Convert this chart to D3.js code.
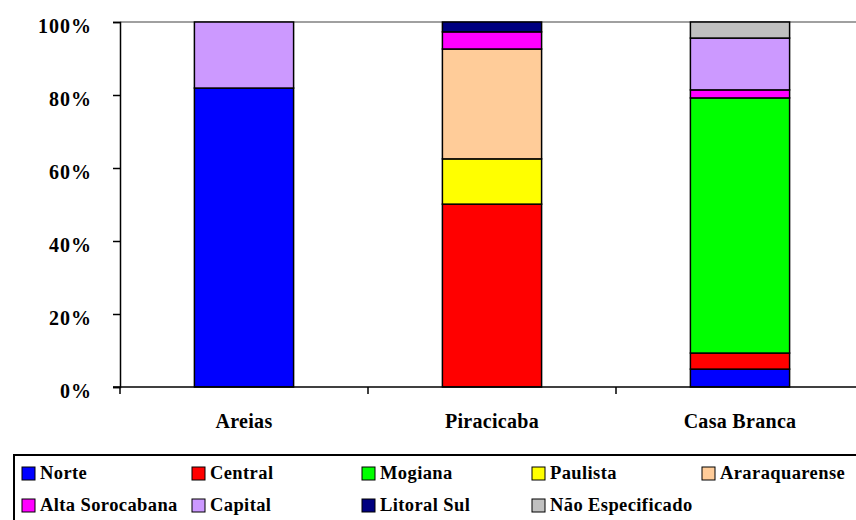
<!DOCTYPE html>
<html>
<head>
<meta charset="utf-8">
<script src="https://cdn.jsdelivr.net/npm/d3@7"></script>
<style>
  body { margin: 0; background: #fff; }
</style>
</head>
<body>
<svg id="chart" width="856" height="520" font-family="Liberation Serif" font-weight="bold"></svg>
<script>
// categories and series (percent of each bar)
const categories = ['Areias', 'Piracicaba', 'Casa Branca'];
const seriesNames = ['Norte', 'Central', 'Mogiana', 'Paulista', 'Araraquarense',
                     'Alta Sorocabana', 'Capital', 'Litoral Sul', 'Não Especificado'];
const norte          = [81.9, 0,    4.9];
const central        = [0,    50.1, 4.4];
const mogiana        = [0,    0,    69.9];
const paulista       = [0,    12.4, 0];
const araraquarense  = [0,    30.1, 0];
const altaSorocabana = [0,    4.7,  2.2];
const capital        = [18.1, 0,    14.2];
const litoralSul     = [0,    2.7,  0];
const naoEspecificado = [0,   0,    4.4];
const yTicks = [0, 20, 40, 60, 80, 100];
const colors = ['#0000ff', '#ff0000', '#00ff00', '#ffff00', '#ffcc99',
                '#ff00ff', '#cc99ff', '#000080', '#c0c0c0'];

const seriesValues = [norte, central, mogiana, paulista, araraquarense,
                      altaSorocabana, capital, litoralSul, naoEspecificado];

const FONT = 'Liberation Serif';

// build rows for d3.stack
const rows = categories.map((c, i) => {
  const r = { cat: c };
  seriesNames.forEach((s, j) => { r[s] = seriesValues[j][i]; });
  return r;
});

const svg = d3.select('#chart');
const plotLeft = 120, plotRight = 864, plotTop = 22, plotBottom = 387;

const x = d3.scaleBand().domain(categories).range([plotLeft, plotRight])
  .paddingInner(0.6).paddingOuter(0.3);
const y = d3.scaleLinear().domain([0, 100]).range([plotBottom, plotTop]);
const color = d3.scaleOrdinal().domain(seriesNames).range(colors);

// top gridline
svg.append('line')
  .attr('x1', plotLeft).attr('x2', 856)
  .attr('y1', y(100)).attr('y2', y(100))
  .attr('stroke', '#808080').attr('stroke-width', 1.5);

// stacked bars
const stacked = d3.stack().keys(seriesNames)(rows);
svg.append('g').selectAll('g')
  .data(stacked)
  .join('g')
  .attr('fill', d => color(d.key))
  .selectAll('rect')
  .data(d => d.filter(p => p[1] - p[0] > 0))
  .join('rect')
  .attr('x', d => x(d.data.cat))
  .attr('width', x.bandwidth())
  .attr('y', d => y(d[1]))
  .attr('height', d => y(d[0]) - y(d[1]))
  .attr('stroke', '#000')
  .attr('stroke-width', 1.5);

// y axis
const yAxis = svg.append('g')
  .attr('transform', `translate(${plotLeft},0)`)
  .call(d3.axisLeft(y).tickValues(yTicks).tickSize(7).tickPadding(21)
    .tickFormat(d => d + '%'));
yAxis.attr('font-family', FONT).attr('font-size', 20);
yAxis.select('.domain').attr('stroke', '#000').attr('stroke-width', 1.5);
yAxis.selectAll('.tick line').attr('stroke', '#000').attr('stroke-width', 1.5);
yAxis.selectAll('.tick text')
  .attr('fill', '#000')
  .attr('font-family', FONT).attr('font-weight', 'bold')
  .attr('letter-spacing', 1)
  .attr('dy', '0.5em');

// x axis line
svg.append('line')
  .attr('x1', plotLeft - 7).attr('x2', 856)
  .attr('y1', plotBottom).attr('y2', plotBottom)
  .attr('stroke', '#000').attr('stroke-width', 1.5);

// category boundary ticks
const step = x.step();
svg.append('g').selectAll('line')
  .data(categories)
  .join('line')
  .attr('x1', (d, i) => plotLeft + i * step)
  .attr('x2', (d, i) => plotLeft + i * step)
  .attr('y1', plotBottom).attr('y2', plotBottom + 7)
  .attr('stroke', '#000').attr('stroke-width', 1.5);

// category labels
svg.append('g')
  .attr('font-family', FONT).attr('font-weight', 'bold').attr('font-size', 20)
  .selectAll('text')
  .data(categories)
  .join('text')
  .attr('x', d => x(d) + x.bandwidth() / 2)
  .attr('y', 428)
  .attr('text-anchor', 'middle')
  .attr('letter-spacing', 0.3)
  .text(d => d);

// legend
svg.append('rect')
  .attr('x', 14).attr('y', 455)
  .attr('width', 860).attr('height', 80)
  .attr('fill', 'none').attr('stroke', '#000').attr('stroke-width', 2);

const legend = svg.append('g')
  .attr('font-family', FONT).attr('font-weight', 'bold').attr('font-size', 18.5)
  .selectAll('g')
  .data(seriesNames)
  .join('g')
  .attr('transform', (d, i) => `translate(${22 + (i % 5) * 170},${i < 5 ? 467 : 499})`);
legend.append('rect')
  .attr('width', 13).attr('height', 13)
  .attr('fill', d => color(d))
  .attr('stroke', '#000').attr('stroke-width', 1);
legend.append('text')
  .attr('x', 18).attr('y', 12)
  .attr('letter-spacing', 0.4)
  .text(d => d);
</script>
</body>
</html>
